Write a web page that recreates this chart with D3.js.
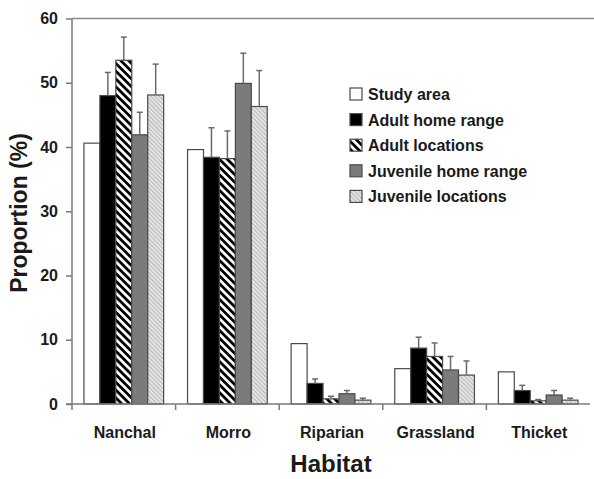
<!DOCTYPE html>
<html lang="en">
<head>
    <meta charset="UTF-8">
    <title>Habitat proportions</title>
    <script src="https://d3js.org/d3.v7.min.js"></script>
    <style>
        body {
            margin: 0;
            background: #fff;
            font-family: Arial, "Liberation Sans", sans-serif;
        }
    </style>
</head>
<body>
    <div id="chart"></div>

    <script>
        // Data
        const categories = ["Nanchal", "Morro", "Riparian", "Grassland", "Thicket"];
        const seriesNames = ["Study area", "Adult home range", "Adult locations", "Juvenile home range", "Juvenile locations"];
        const studyArea = [40.6, 39.6, 9.4, 5.5, 5.0];
        const adultHomeRange = [48.0, 38.4, 3.2, 8.7, 2.1];
        const adultLocations = [53.5, 38.2, 0.8, 7.4, 0.5];
        const juvenileHomeRange = [41.9, 49.9, 1.6, 5.3, 1.4];
        const juvenileLocations = [48.1, 46.3, 0.6, 4.5, 0.6];
        // upper end of the error bars (study area has none)
        const adultHomeRangeErr = [51.6, 43.0, 3.9, 10.4, 2.9];
        const adultLocationsErr = [57.1, 42.5, 1.2, 9.5, 0.7];
        const juvenileHomeRangeErr = [45.4, 54.6, 2.1, 7.4, 2.1];
        const juvenileLocationsErr = [52.9, 51.9, 0.9, 6.7, 0.9];
        const yTicks = [0, 10, 20, 30, 40, 50, 60];

        const seriesValues = [studyArea, adultHomeRange, adultLocations, juvenileHomeRange, juvenileLocations];
        const seriesErrors = [null, adultHomeRangeErr, adultLocationsErr, juvenileHomeRangeErr, juvenileLocationsErr];

        const W = 594, H = 479;
        const plotLeft = 72, plotRight = 590, plotTop = 18.5, plotBottom = 404;

        const svg = d3.select("#chart").append("svg")
            .attr("width", W)
            .attr("height", H);

        // Fill patterns
        const defs = svg.append("defs");
        const hatch = defs.append("pattern")
            .attr("id", "hatch")
            .attr("patternUnits", "userSpaceOnUse")
            .attr("width", 5.5).attr("height", 5.5)
            .attr("patternTransform", "rotate(45)");
        hatch.append("rect").attr("width", 5.5).attr("height", 5.5).attr("fill", "#fff");
        hatch.append("rect").attr("width", 5.5).attr("height", 2.8).attr("fill", "#000");

        const dots = defs.append("pattern")
            .attr("id", "dots")
            .attr("patternUnits", "userSpaceOnUse")
            .attr("width", 3).attr("height", 3)
            .attr("patternTransform", "rotate(45)");
        dots.append("rect").attr("width", 3).attr("height", 3).attr("fill", "#e4e4e4");
        dots.append("rect").attr("width", 3).attr("height", 1).attr("fill", "#b8b8b8");

        const fills = ["#ffffff", "#000000", "url(#hatch)", "#7b7b7b", "url(#dots)"];

        // Scales
        const x0 = d3.scaleBand().domain(categories).range([plotLeft, plotRight]);
        const x1 = d3.scaleBand().domain(seriesNames)
            .range([0, x0.bandwidth()])
            .paddingOuter(0.75);
        const y = d3.scaleLinear().domain([0, 60]).range([plotBottom, plotTop]);

        // Top frame line
        svg.append("line")
            .attr("x1", plotLeft).attr("x2", W)
            .attr("y1", y(60)).attr("y2", y(60))
            .attr("stroke", "#8a8a8a").attr("stroke-width", 1.5);

        // Bars
        seriesNames.forEach((name, si) => {
            const g = svg.append("g");
            g.selectAll("rect")
                .data(categories)
                .enter()
                .append("rect")
                .attr("x", d => x0(d) + x1(name))
                .attr("y", (d, i) => y(seriesValues[si][i]))
                .attr("width", x1.bandwidth())
                .attr("height", (d, i) => y(0) - y(seriesValues[si][i]))
                .attr("fill", fills[si])
                .attr("stroke", "#4a4a4a")
                .attr("stroke-width", 1.2);

            if (seriesErrors[si]) {
                const cx = d => x0(d) + x1(name) + x1.bandwidth() / 2;
                g.selectAll(".err")
                    .data(categories)
                    .enter()
                    .append("line")
                    .attr("class", "err")
                    .attr("x1", cx).attr("x2", cx)
                    .attr("y1", (d, i) => y(seriesValues[si][i]))
                    .attr("y2", (d, i) => y(seriesErrors[si][i]))
                    .attr("stroke", "#6a6a6a").attr("stroke-width", 1.5);
                g.selectAll(".cap")
                    .data(categories)
                    .enter()
                    .append("line")
                    .attr("class", "cap")
                    .attr("x1", d => cx(d) - 3).attr("x2", d => cx(d) + 3)
                    .attr("y1", (d, i) => y(seriesErrors[si][i]))
                    .attr("y2", (d, i) => y(seriesErrors[si][i]))
                    .attr("stroke", "#6a6a6a").attr("stroke-width", 1.5);
            }
        });

        // Y axis
        const yAxis = svg.append("g")
            .attr("transform", `translate(${plotLeft},0)`)
            .call(d3.axisLeft(y).tickValues(yTicks).tickSize(6).tickPadding(8));
        yAxis.selectAll("path, line").attr("stroke", "#7a7a7a").attr("stroke-width", 1.5);
        yAxis.select(".domain").attr("d", `M0,${y(0)}V${y(60)}`);
        yAxis.selectAll("text")
            .attr("font-family", "Arial, 'Liberation Sans', sans-serif")
            .attr("font-size", 16).attr("font-weight", "bold").attr("fill", "#1a1a1a");

        // X axis: ticks at category boundaries
        const xg = svg.append("g");
        xg.append("line")
            .attr("x1", plotLeft - 6).attr("x2", plotRight)
            .attr("y1", y(0)).attr("y2", y(0))
            .attr("stroke", "#7a7a7a").attr("stroke-width", 1.5);
        xg.selectAll(".xtick")
            .data(categories)
            .enter()
            .append("line")
            .attr("x1", d => x0(d)).attr("x2", d => x0(d))
            .attr("y1", y(0)).attr("y2", y(0) + 6)
            .attr("stroke", "#7a7a7a").attr("stroke-width", 1.5);
        xg.selectAll(".xlabel")
            .data(categories)
            .enter()
            .append("text")
            .attr("x", d => x0(d) + x0.bandwidth() / 2 + 1)
            .attr("y", 438)
            .attr("text-anchor", "middle")
            .attr("font-size", 16).attr("font-weight", "bold").attr("fill", "#1a1a1a")
            .text(d => d);

        // Axis titles
        svg.append("text")
            .attr("x", 331).attr("y", 472)
            .attr("text-anchor", "middle")
            .attr("font-size", 24).attr("font-weight", "bold").attr("fill", "#1a1a1a")
            .text("Habitat");
        svg.append("text")
            .attr("transform", "translate(27,213) rotate(-90)")
            .attr("text-anchor", "middle")
            .attr("font-size", 23).attr("font-weight", "bold").attr("fill", "#1a1a1a")
            .text("Proportion (%)");

        // Legend
        const legend = svg.append("g").attr("transform", "translate(350,88)");
        const row = legend.selectAll("g")
            .data(seriesNames)
            .enter()
            .append("g")
            .attr("transform", (d, i) => `translate(0,${i * 25.6})`);
        row.append("rect")
            .attr("width", 12).attr("height", 12)
            .attr("fill", (d, i) => fills[i])
            .attr("stroke", "#4a4a4a").attr("stroke-width", 1.2);
        row.append("text")
            .attr("x", 18).attr("y", 12)
            .attr("font-size", 16).attr("font-weight", "bold").attr("fill", "#1a1a1a")
            .text(d => d);
    </script>
</body>
</html>
